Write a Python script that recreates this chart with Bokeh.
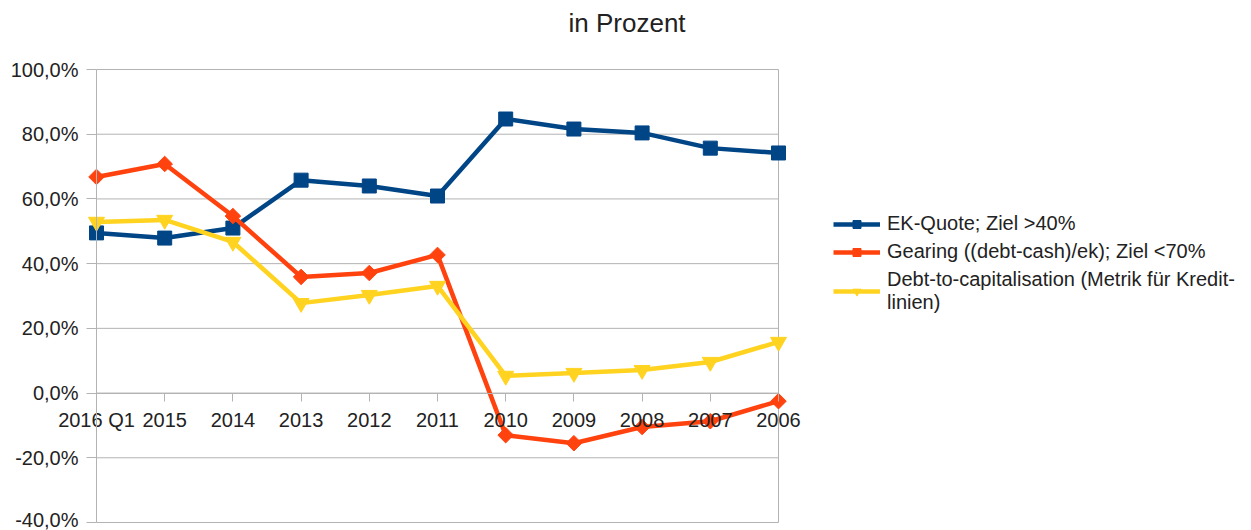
from bokeh.plotting import figure
from bokeh.models import Range1d, FixedTicker, Legend, LegendItem, Title
from bokeh.embed import file_html
from bokeh.resources import INLINE
import math

# Balance-sheet ratios per period, in percent
periods = ["2016 Q1", "2015", "2014", "2013", "2012", "2011",
           "2010", "2009", "2008", "2007", "2006"]
ek_quote = [49.5, 47.9, 51.0, 65.8, 64.0, 60.9, 84.7, 81.6, 80.4, 75.7, 74.2]
gearing = [66.8, 70.8, 54.7, 35.9, 37.1, 42.7, -13.0, -15.5, -10.5, -8.7, -2.5]
debt_to_cap = [52.9, 53.5, 46.7, 27.8, 30.3, 33.1, 5.3, 6.2, 7.1, 9.6, 15.8]
y_ticks = [-40, -20, 0, 20, 40, 60, 80, 100]

series_labels = [
    "EK-Quote; Ziel >40%",
    "Gearing ((debt-cash)/ek); Ziel <70%",
    "Debt-to-capitalisation (Metrik für Kredit-\nlinien)",
]

FONT = "Liberation Sans"
TEXT = "#222222"
GRID = "#b3b3b3"
BLUE = "#004586"
ORANGE = "#ff420e"
YELLOW = "#ffd320"

xs = list(range(len(periods)))
x_min, x_max = xs[0], xs[-1]
y_lo, y_hi = y_ticks[0], y_ticks[-1]

# pixel layout: the frame spans the full width so that the pinned axes
# and the legend can draw anywhere beside the period span
W, H = 1251, 530
area_left, area_right = 96, 778      # screen x of first / last period
area_top, area_bottom = 69, 522      # screen y of 100 % / -40 %
frame_top, frame_bottom = 40, 530

ux = (area_right - area_left) / (x_max - x_min)
uy = (area_bottom - area_top) / (y_hi - y_lo)
x_range = Range1d(x_min - area_left / ux, x_max + (W - area_right) / ux)
y_range = Range1d(y_lo - (frame_bottom - area_bottom) / uy,
                  y_hi + (area_top - frame_top) / uy)

p = figure(
    width=W, height=H,
    x_range=x_range, y_range=y_range,
    output_backend="svg", toolbar_location=None,
    min_border_left=0, min_border_right=0,
    min_border_top=frame_top, min_border_bottom=H - frame_bottom,
    background_fill_color="white", border_fill_color="white",
)
p.outline_line_color = None
p.xgrid.visible = False
p.ygrid.visible = False

# horizontal grid lines and right border over the period span
p.segment(x0=[x_min] * len(y_ticks), x1=[x_max] * len(y_ticks),
          y0=y_ticks, y1=y_ticks, line_color=GRID, line_width=1, level="underlay")
p.segment(x0=[x_max], x1=[x_max], y0=[y_lo], y1=[y_hi],
          line_color=GRID, line_width=1, level="underlay")

# y axis pinned to the first period
yax = p.yaxis[0]
yax.fixed_location = x_min
yax.bounds = (y_lo, y_hi)
yax.ticker = FixedTicker(ticks=y_ticks)
yax.major_label_overrides = {t: f"{t:.1f}%".replace(".", ",") for t in y_ticks}
yax.axis_line_color = GRID
yax.major_tick_line_color = GRID
yax.major_tick_in = 0
yax.major_tick_out = 10
yax.minor_tick_line_color = None
yax.major_label_standoff = 8
yax.major_label_text_font = FONT
yax.major_label_text_font_size = "20px"
yax.major_label_text_color = TEXT

# x axis pinned to the zero line
xax = p.xaxis[0]
xax.fixed_location = 0
xax.bounds = (x_min, x_max)
xax.ticker = FixedTicker(ticks=xs)
xax.major_label_overrides = {i: s for i, s in zip(xs, periods)}
xax.axis_line_color = GRID
xax.major_tick_line_color = GRID
xax.major_tick_in = 0
xax.major_tick_out = 8
xax.minor_tick_line_color = None
xax.major_label_standoff = 8
xax.major_label_text_font = FONT
xax.major_label_text_font_size = "20px"
xax.major_label_text_color = TEXT

items = []
specs = [
    (ek_quote, BLUE, dict(marker="square", size=14, angle=0)),
    (gearing, ORANGE, dict(marker="square", size=11, angle=math.pi / 4)),
    (debt_to_cap, YELLOW, dict(marker="inverted_triangle", size=16, angle=0)),
]
for (vals, color, mk), label in zip(specs, series_labels):
    ln = p.line(xs, vals, line_color=color, line_width=4.5, line_join="round")
    sc = p.scatter(xs, vals, fill_color=color, line_color=color, **mk)
    items.append(LegendItem(label=label, renderers=[ln, sc]))

legend = Legend(
    items=items, location=(833, 216),
    padding=0, margin=0, spacing=5,
    glyph_width=47, glyph_height=20, label_height=20, label_standoff=7,
    label_text_font=FONT, label_text_font_size="20px", label_text_color=TEXT,
    border_line_color=None, background_fill_alpha=0,
)
p.add_layout(legend)

p.title = Title(text="in Prozent", align="left", offset=568, standoff=6,
                text_font=FONT, text_font_size="26px", text_font_style="normal",
                text_color=TEXT)

open("out.html", "w").write(file_html(p, INLINE))
